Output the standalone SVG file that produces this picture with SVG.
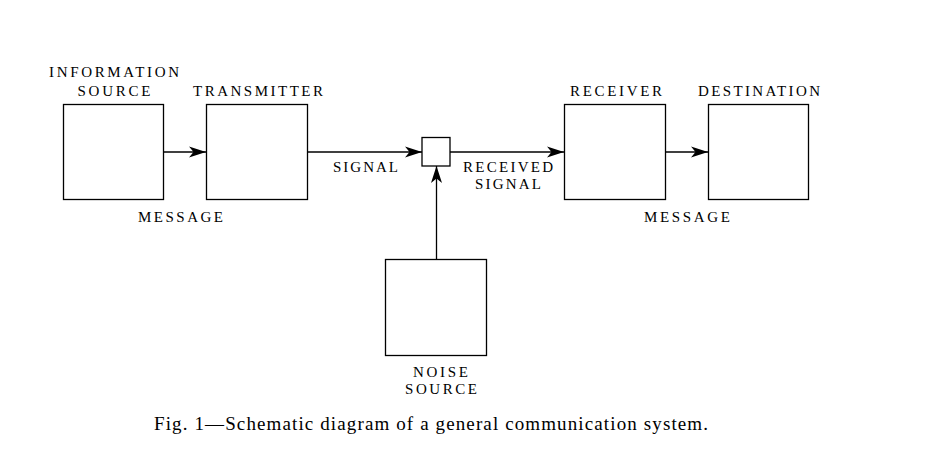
<svg xmlns="http://www.w3.org/2000/svg" width="948" height="459" viewBox="0 0 948 459">
<style>
.box{fill:#fff;stroke:#000;stroke-width:1.3}
.ln{stroke:#000;stroke-width:1.3;fill:none}
.lb{font-size:15px;fill:#000;text-anchor:middle}
.cap{font-size:19px;fill:#000}
</style>
<defs>
<marker id="ah" viewBox="0 0 17 12" refX="17" refY="6" markerWidth="17" markerHeight="12" markerUnits="userSpaceOnUse" orient="auto">
<path d="M0,0.5 L17,6 L0,11.5 L4.5,6 Z" fill="#000"/>
</marker>
</defs>
<rect width="948" height="459" fill="#fff"/>
<g font-family="Liberation Serif, Times New Roman, DejaVu Serif, serif">
<g id="connectors">
<line class="ln" x1="163" y1="152" x2="206" y2="152" marker-end="url(#ah)"/>
<line class="ln" x1="307" y1="152" x2="422" y2="152" marker-end="url(#ah)"/>
<line class="ln" x1="450" y1="152" x2="564" y2="152" marker-end="url(#ah)"/>
<line class="ln" x1="665" y1="152" x2="708" y2="152" marker-end="url(#ah)"/>
<line class="ln" x1="436.5" y1="259" x2="436.5" y2="166" marker-end="url(#ah)"/>
<text class="lb" x="180.5" y="222" textLength="85" lengthAdjust="spacing">MESSAGE</text>
<text class="lb" x="365.5" y="172" textLength="65" lengthAdjust="spacing">SIGNAL</text>
<text class="lb" x="508" y="172" textLength="90" lengthAdjust="spacing">RECEIVED</text>
<text class="lb" x="508" y="189" textLength="66" lengthAdjust="spacing">SIGNAL</text>
<text class="lb" x="687" y="222" textLength="86" lengthAdjust="spacing">MESSAGE</text>
</g>
<g id="source">
<rect class="box" x="63.5" y="104.5" width="100" height="95"/>
<text class="lb" x="114" y="77" textLength="130" lengthAdjust="spacing">INFORMATION</text>
<text class="lb" x="114" y="96" textLength="73" lengthAdjust="spacing">SOURCE</text>
</g>
<g id="transmitter">
<rect class="box" x="206.5" y="104.5" width="101" height="95"/>
<text class="lb" x="258" y="96" textLength="130" lengthAdjust="spacing">TRANSMITTER</text>
</g>
<g id="mixer">
<rect class="box" x="422" y="137.5" width="28" height="28.5"/>
</g>
<g id="receiver">
<rect class="box" x="564.5" y="104.5" width="101" height="95"/>
<text class="lb" x="616" y="96" textLength="92" lengthAdjust="spacing">RECEIVER</text>
</g>
<g id="destination">
<rect class="box" x="708.5" y="104.5" width="100" height="95"/>
<text class="lb" x="759" y="96" textLength="122" lengthAdjust="spacing">DESTINATION</text>
</g>
<g id="noise">
<rect class="box" x="385.5" y="259.5" width="101" height="96"/>
<text class="lb" x="440.5" y="377" textLength="55" lengthAdjust="spacing">NOISE</text>
<text class="lb" x="441" y="393.5" textLength="72" lengthAdjust="spacing">SOURCE</text>
</g>
<text class="cap" x="154" y="430" textLength="554" lengthAdjust="spacing">Fig. 1—Schematic diagram of a general communication system.</text>
</g>
</svg>
